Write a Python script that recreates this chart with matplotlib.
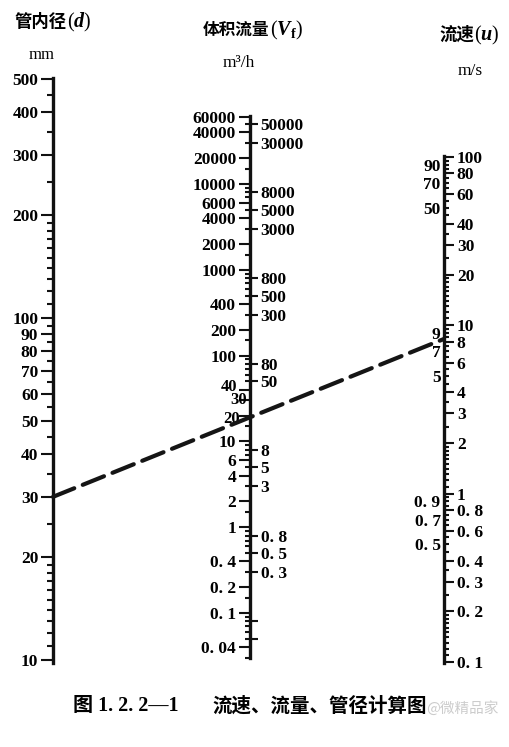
import numpy as np
import matplotlib.pyplot as plt
from matplotlib.ticker import FixedLocator, FuncFormatter, NullFormatter
from matplotlib.patches import ConnectionPatch

plt.rcParams['font.family'] = ['Liberation Serif', 'Noto Sans CJK SC']
plt.rcParams['font.weight'] = 'bold'
plt.rcParams['mathtext.fontset'] = 'custom'
plt.rcParams['mathtext.it'] = 'Liberation Serif:italic'
plt.rcParams['mathtext.rm'] = 'Liberation Serif'

W, H = 510, 747

# ---- scale values ----
# pipe inner diameter d, mm
d_major = [500, 400, 300, 200, 100, 90, 80, 70, 60, 50, 40, 30, 20, 10]
d_minor = [450, 350, 250, 190, 180, 170, 160, 150, 140, 130, 120, 110,
           95, 85, 75, 65, 55, 45, 35, 25,
           19, 18, 17, 16, 15, 14, 13, 12, 11]

# volume flow Vf, m3/h
v_left = [60000, 40000, 20000, 10000, 6000, 4000, 2000, 1000, 400, 200, 100,
          40, 30, 20, 10, 6, 4, 2, 1, 0.4, 0.2, 0.1, 0.04]
v_right = [50000, 30000, 8000, 5000, 3000, 800, 500, 300, 80, 50,
           8, 5, 3, 0.8, 0.5, 0.3]
v_right_unlabeled = [0.08, 0.05]
v_mantissas = [1.5, 2, 3, 4, 5, 6, 7, 8, 9]
v_minor = [m * 10.0**k for k in range(-2, 5) for m in v_mantissas
           if 0.03 <= m * 10.0**k <= 60000]

# flow velocity u, m/s
u_right = [100, 80, 60, 40, 30, 20, 10, 8, 6, 4, 3, 2, 1,
           0.8, 0.6, 0.4, 0.3, 0.2, 0.1]
u_left = [90, 70, 50, 9, 7, 5, 0.9, 0.7, 0.5]
u_left_ticks = [9]
u_minor = [95, 90, 85, 75, 70, 65, 55, 50, 45, 35, 25,
           19, 18, 17, 16, 15, 14, 13, 12, 11,
           9.5, 9, 8.5, 7.5, 7, 6.5, 5.5, 5, 4.5, 3.5, 2.5,
           1.9, 1.8, 1.7, 1.6, 1.5, 1.4, 1.3, 1.2, 1.1,
           0.95, 0.9, 0.85, 0.75, 0.7, 0.65, 0.55, 0.5, 0.45, 0.35, 0.25,
           0.19, 0.18, 0.17, 0.16, 0.15, 0.14, 0.13, 0.12, 0.11]

# worked example drawn as dashed line
d_example = 30
u_example = 8.3

# crowded labels that the printed chart staggers (offset in px: dx left, dy up)
v_left_nudge = {40: (13, 3), 30: (3, 0), 20: (10, -3)}


def label(v):
    return f"{v:g}".replace('.', '. ')


fmt = FuncFormatter(lambda v, pos: label(v))

fig = plt.figure(figsize=(W / 100, H / 100), dpi=100)
fig.patch.set_facecolor('white')

bg = fig.add_axes([0, 0, 1, 1], zorder=-1)
bg.set_xlim(0, W)
bg.set_ylim(H, 0)
bg.axis('off')


def scale_axes(x_px, top, bot, ext_top=1, ext_bot=1):
    (v_top, p_top), (v_bot, p_bot) = top, bot
    ppd = (p_bot - p_top) / np.log10(v_top / v_bot)
    ax = fig.add_axes([x_px / W, 1 - (p_bot + ext_bot) / H, 0.0005,
                       (p_bot - p_top + ext_top + ext_bot) / H])
    ax.set_yscale('log')
    ax.set_ylim(v_bot / 10**(ext_bot / ppd), v_top * 10**(ext_top / ppd))
    ax.set_xticks([])
    ax.patch.set_visible(False)
    for s in ('top', 'right', 'bottom'):
        ax.spines[s].set_visible(False)
    ax.spines['left'].set_linewidth(2.4)
    ax.spines['left'].set_color('#111111')
    tw = ax.twinx()
    tw.set_yscale('log')
    tw.set_ylim(ax.get_ylim())
    for s in tw.spines.values():
        s.set_visible(False)
    for a in (ax, tw):
        a.yaxis.set_major_formatter(fmt)
        a.yaxis.set_minor_formatter(NullFormatter())
        a.yaxis.set_major_locator(FixedLocator([]))
        a.yaxis.set_minor_locator(FixedLocator([]))
        a.tick_params(axis='y', which='both', direction='out', width=1.5,
                      color='#111111', labelsize=12.5)
    return ax, tw


# ---- left scale: d ----
axL, twL = scale_axes(53, (500, 79), (10, 660), ext_top=1, ext_bot=3)
axL.yaxis.set_major_locator(FixedLocator(d_major))
axL.yaxis.set_minor_locator(FixedLocator(d_minor))
axL.tick_params(which='major', length=8.6, pad=2)
axL.tick_params(which='minor', length=4.3)

# ---- middle scale: Vf ----
axM, twM = scale_axes(250, (60000, 117), (0.03, 658), ext_top=1, ext_bot=0)
axM.yaxis.set_major_locator(FixedLocator(v_left))
axM.yaxis.set_major_formatter(
    FuncFormatter(lambda v, pos: '' if v in v_left_nudge else label(v)))
axM.yaxis.set_minor_locator(FixedLocator(v_minor))
axM.tick_params(which='major', length=8, pad=2)
axM.tick_params(which='minor', length=3.6)
for v, (dx, dy) in v_left_nudge.items():
    axM.annotate(label(v), xy=(0, v), xycoords=axM.get_yaxis_transform(),
                 xytext=(-dx * 0.72, dy * 0.72), textcoords='offset points',
                 ha='right', va='center', fontsize=12)
twM.yaxis.set_major_locator(FixedLocator(v_right))
twM.yaxis.set_minor_locator(FixedLocator(v_right_unlabeled))
twM.tick_params(which='both', length=5.5, pad=2)

# ---- right scale: u ----
axR, twR = scale_axes(444, (100, 157), (0.1, 662), ext_top=1, ext_bot=1)
axR.yaxis.set_major_locator(FixedLocator(u_left))
axR.yaxis.set_minor_locator(FixedLocator(u_left_ticks))
axR.tick_params(which='major', length=0, pad=2.5)
axR.tick_params(which='minor', length=6)
twR.yaxis.set_major_locator(FixedLocator(u_right))
twR.yaxis.set_minor_locator(FixedLocator(u_minor))
twR.tick_params(which='major', length=7.5, pad=1.5)
twR.tick_params(which='minor', length=3.8)

# ---- dashed example line ----
con = ConnectionPatch(xyA=(0, d_example), coordsA=axL.get_yaxis_transform(),
                      xyB=(0, u_example), coordsB=axR.get_yaxis_transform(),
                      linestyle=(0, (5.5, 2.2)), linewidth=3.0, color='#151515',
                      zorder=5)
fig.add_artist(con)

# ---- headings ----
cjk = 'Noto Sans CJK SC'
t1 = bg.text(15, 22, "管内径", family=cjk, fontsize=12.5, fontweight='bold', va='center')
bg.annotate("($d$)", xy=(1, 0.5), xycoords=t1, va='center', ha='left',
            fontsize=14.5, fontweight='normal')
bg.text(42, 55, "mm", fontsize=12, fontweight='normal', ha='center', va='center')

t2 = bg.text(203, 30, "体积流量", family=cjk, fontsize=12, fontweight='bold', va='center')
bg.annotate(r"($V_\mathrm{f}$)", xy=(1, 0.5), xycoords=t2, va='center', ha='left',
            fontsize=14.5, fontweight='normal')
bg.text(239, 63, "m³/h", fontsize=12.5, fontweight='normal', ha='center', va='center')

t3 = bg.text(439, 35, "流速", family=cjk, fontsize=12.5, fontweight='bold', va='center')
bg.annotate("($u$)", xy=(1, 0.5), xycoords=t3, va='center', ha='left',
            fontsize=14.5, fontweight='normal')
bg.text(470, 71, "m/s", fontsize=12.5, fontweight='normal', ha='center', va='center')

# ---- caption ----
bg.text(73, 706, "图 1. 2. 2—1", fontsize=14.5, fontweight='bold', va='center')
bg.text(212, 706, "流速、流量、管径计算图", family=cjk, fontsize=14,
        fontweight='bold', va='center')
bg.text(426, 708, "@微精品家", family=cjk, fontsize=10.5, fontweight='normal',
        color='#cccccc', va='center')

fig.savefig('out.png', dpi=100, facecolor='white')
